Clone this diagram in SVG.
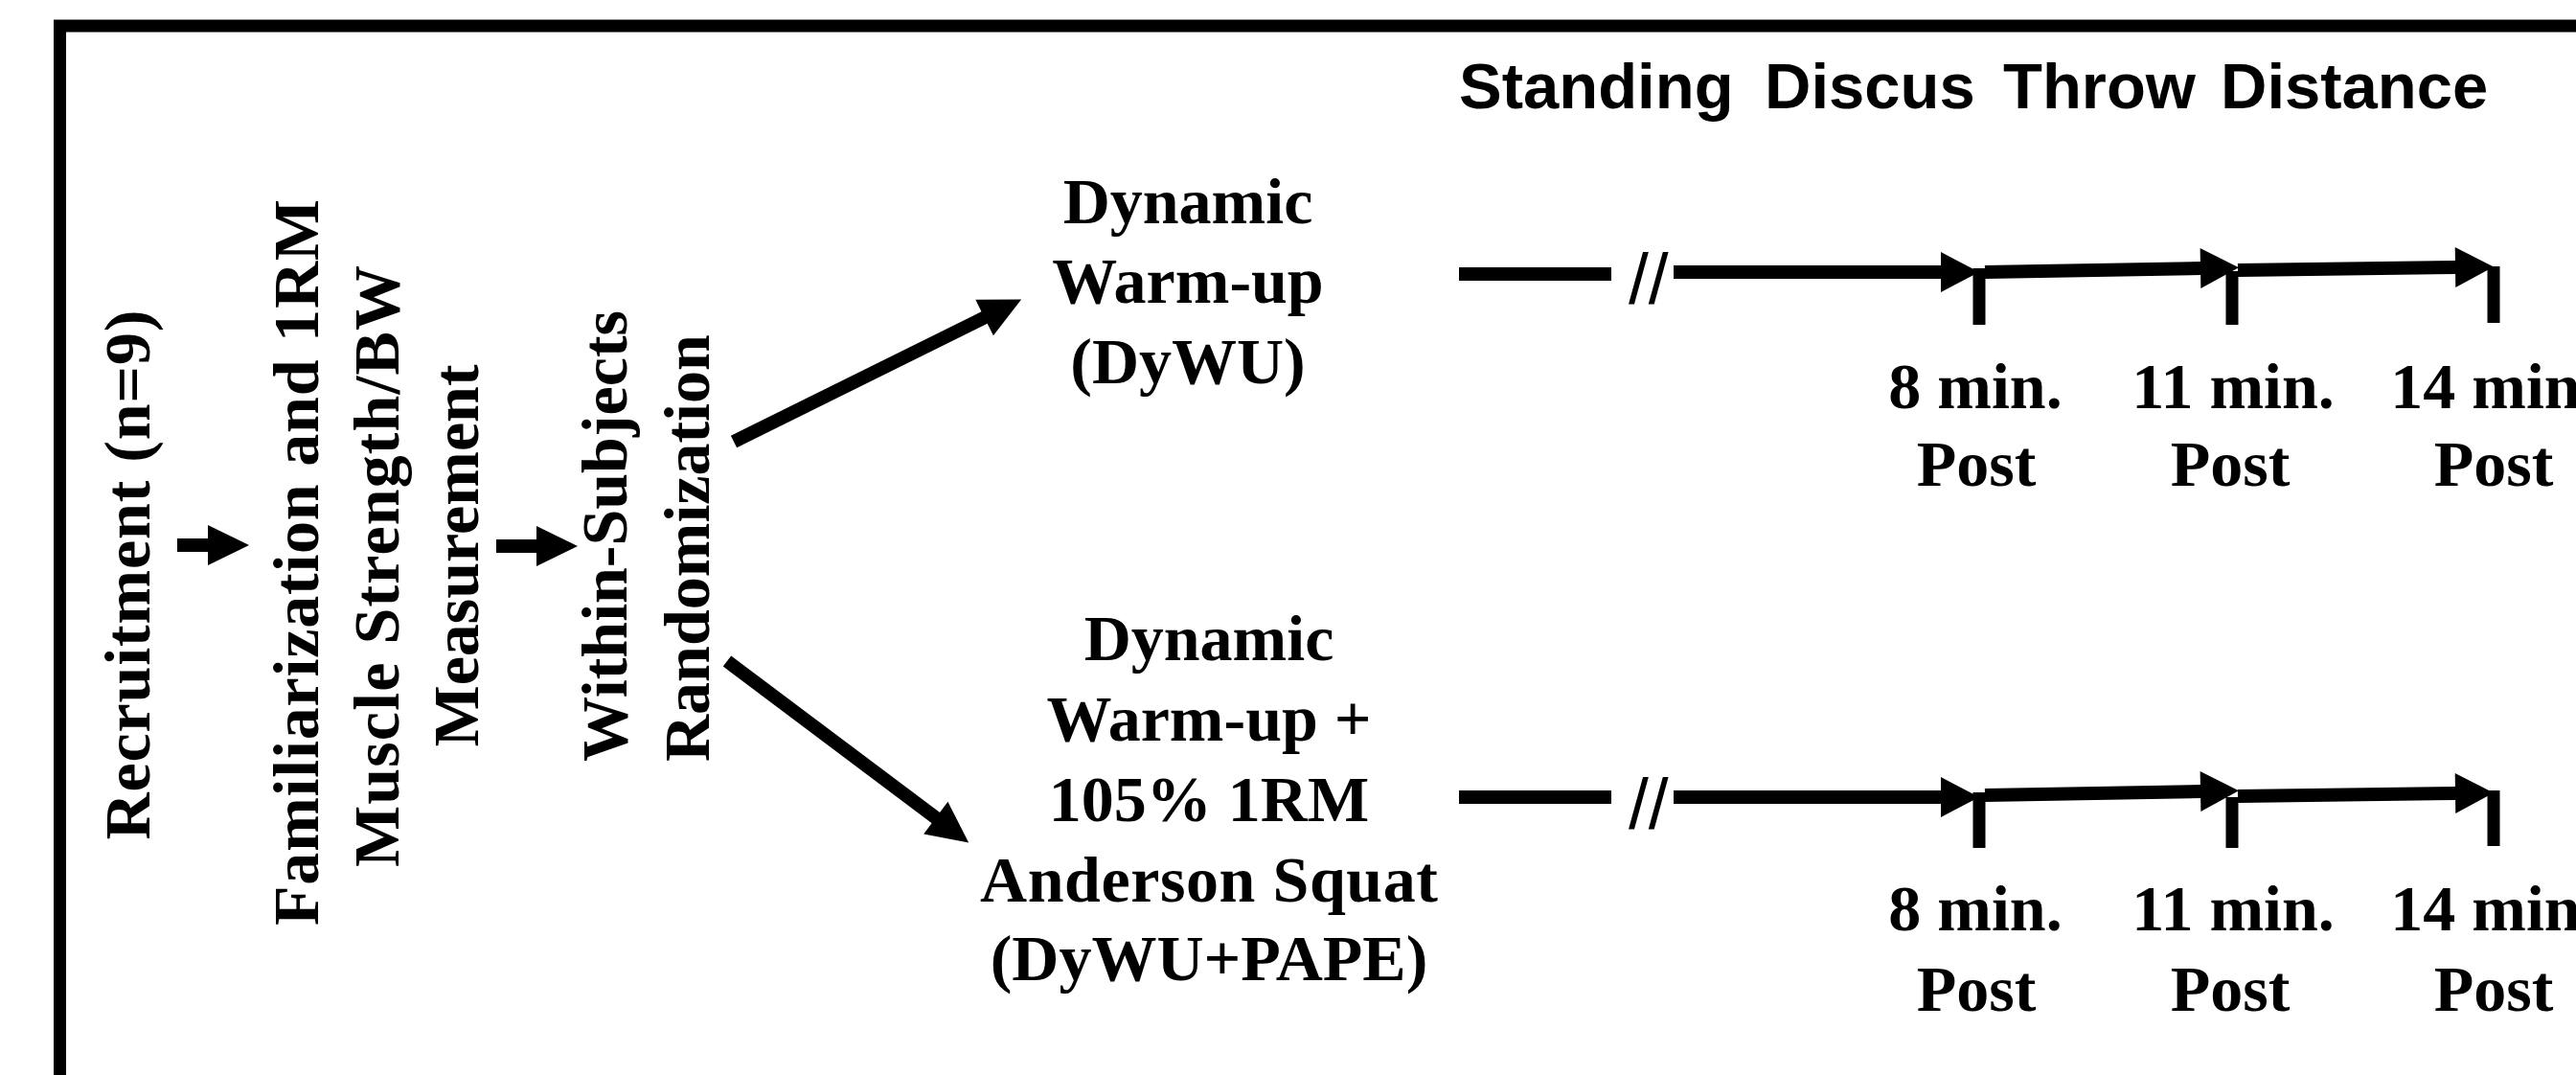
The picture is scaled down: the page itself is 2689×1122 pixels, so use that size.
<svg xmlns="http://www.w3.org/2000/svg" width="2689" height="1122" viewBox="0 0 2689 1122">
<style>
.serif{font-family:"Liberation Serif","Times New Roman",serif;font-weight:bold;font-size:68px;fill:#000}
.sans{font-family:"Liberation Sans",Arial,sans-serif;font-weight:bold;font-size:67px;fill:#000}
.brk{font-family:"Liberation Sans",Arial,sans-serif;font-size:75px;fill:#000}
.shaft{stroke:#000;stroke-width:14;fill:none}
.tick{stroke:#000;stroke-width:13;fill:none}
.mid{text-anchor:middle}
</style>
<defs>
<marker id="head" markerUnits="userSpaceOnUse" markerWidth="45" markerHeight="44" refX="1" refY="21" orient="auto" overflow="visible">
<path d="M0,0 L43,21 L0,42 Z" fill="#000"/>
</marker>
<marker id="thead" markerUnits="userSpaceOnUse" markerWidth="42" markerHeight="44" refX="1" refY="21" orient="auto" overflow="visible">
<path d="M0,0 L40,21 L0,42 Z" fill="#000"/>
</marker>
</defs>
<rect width="2689" height="1122" fill="#fff"/>
<rect id="frame" x="62.5" y="27" width="2800" height="1300" fill="none" stroke="#000" stroke-width="13"/>

<g id="recruitment">
<text class="serif mid" transform="translate(156,600) rotate(-90)" textLength="553" lengthAdjust="spacing">Recruitment (n=9)</text>
</g>
<g id="familiarization">
<text class="serif mid" transform="translate(332,587) rotate(-90)" textLength="758" lengthAdjust="spacing">Familiarization and 1RM</text>
<text class="serif mid" transform="translate(416,591) rotate(-90)" textLength="628" lengthAdjust="spacing">Muscle Strength/BW</text>
<text class="serif mid" transform="translate(499,580) rotate(-90)">Measurement</text>
</g>
<g id="randomization">
<text class="serif" transform="translate(654,795) rotate(-90)">Within-Subjects</text>
<text class="serif" transform="translate(740,795) rotate(-90)">Randomization</text>
</g>
<g id="dywu">
<text class="serif mid" x="1240" y="233">Dynamic</text>
<text class="serif mid" x="1240" y="316">Warm-up</text>
<text class="serif mid" x="1240" y="400">(DyWU)</text>
</g>
<g id="dywu-pape">
<text class="serif mid" x="1262" y="689">Dynamic</text>
<text class="serif mid" x="1262" y="773">Warm-up +</text>
<text class="serif mid" x="1262" y="857">105% 1RM</text>
<text class="serif mid" x="1262" y="941" textLength="478" lengthAdjust="spacing">Anderson Squat</text>
<text class="serif mid" x="1262" y="1023">(DyWU+PAPE)</text>
</g>
<g id="title">
<text class="sans" y="113"><tspan x="1523">Standing</tspan><tspan x="1842">Discus</tspan><tspan x="2091">Throw</tspan><tspan x="2318">Distance</tspan></text>
</g>
<g id="times-top">
<text class="serif mid" x="2062" y="426">8 min.</text>
<text class="serif mid" x="2063" y="507">Post</text>
<text class="serif mid" x="2331" y="426">11 min.</text>
<text class="serif mid" x="2328" y="507">Post</text>
<text class="serif mid" x="2603" y="426">14 min.</text>
<text class="serif mid" x="2603" y="507">Post</text>
</g>
<g id="times-bottom">
<text class="serif mid" x="2062" y="971">8 min.</text>
<text class="serif mid" x="2063" y="1055">Post</text>
<text class="serif mid" x="2331" y="971">11 min.</text>
<text class="serif mid" x="2328" y="1055">Post</text>
<text class="serif mid" x="2603" y="971">14 min.</text>
<text class="serif mid" x="2603" y="1055">Post</text>
</g>

<g id="connectors">
<line class="shaft" x1="185" y1="569" x2="218" y2="569" marker-end="url(#head)"/>
<line class="shaft" x1="518" y1="570" x2="561" y2="570" marker-end="url(#head)"/>
<line class="shaft" x1="766" y1="461" x2="1028.5" y2="331.1" marker-end="url(#head)"/>
<line class="shaft" x1="759" y1="690" x2="977.6" y2="854.2" marker-end="url(#head)"/>

<line class="shaft" x1="1523" y1="286" x2="1682" y2="286"/>
<text class="brk" x="1700" y="317">//</text>
<line class="shaft" x1="1747" y1="284" x2="2027" y2="284" marker-end="url(#thead)"/>
<line class="tick" x1="2066" y1="280" x2="2066" y2="339"/>
<line class="shaft" x1="2072" y1="284" x2="2298" y2="280" marker-end="url(#thead)"/>
<line class="tick" x1="2330" y1="283" x2="2330" y2="339"/>
<line class="shaft" x1="2336" y1="282" x2="2564" y2="279" marker-end="url(#thead)"/>
<line class="tick" x1="2603" y1="278" x2="2603" y2="337"/>

<line class="shaft" x1="1523" y1="832" x2="1682" y2="832"/>
<text class="brk" x="1700" y="865">//</text>
<line class="shaft" x1="1747" y1="832" x2="2027" y2="832" marker-end="url(#thead)"/>
<line class="tick" x1="2066" y1="827" x2="2066" y2="885"/>
<line class="shaft" x1="2072" y1="830" x2="2298" y2="826" marker-end="url(#thead)"/>
<line class="tick" x1="2330" y1="832" x2="2330" y2="885"/>
<line class="shaft" x1="2336" y1="831" x2="2564" y2="828" marker-end="url(#thead)"/>
<line class="tick" x1="2603" y1="825" x2="2603" y2="883"/>
</g>
</svg>
